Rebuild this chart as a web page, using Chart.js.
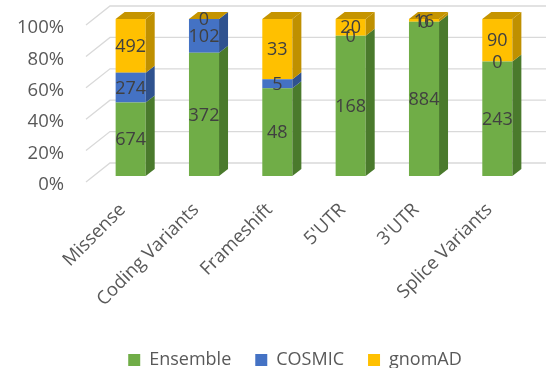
<!DOCTYPE html>
<html>
<head>
<meta charset="utf-8">
<script src="https://cdn.jsdelivr.net/npm/chart.js@4"></script>
<style>
  html, body { margin: 0; padding: 0; background: #fff; }
  #wrap { width: 546px; height: 368px; }
</style>
</head>
<body>
<div id="wrap"><canvas id="chart-stack"></canvas></div>
<script>
const categories = ['Missense', 'Coding Variants', 'Frameshift', "5'UTR", "3'UTR", 'Splice Variants'];
const ensemble = [674, 372, 48, 168, 884, 243];
const cosmic = [274, 102, 5, 0, 0, 0];
const gnomad = [492, 0, 33, 20, 16, 90];
const yTicks = [0, 20, 40, 60, 80, 100];

const totals = categories.map((c, i) => ensemble[i] + cosmic[i] + gnomad[i]);
const pct = arr => arr.map((v, i) => v / totals[i] * 100);

const DX = 9, DY = 7;

// grid lines on the back wall with a floor-ish diagonal on the left
const backGrid = {
  id: 'backGrid',
  afterLayout(chart) {
    // legend sits a bit right of centre in the original
    chart.legend.left += 56;
  },
  beforeDatasetsDraw(chart) {
    const y = chart.scales.y, ctx = chart.ctx;
    ctx.save();
    ctx.strokeStyle = '#d9d9d9';
    ctx.lineWidth = 1.3;
    yTicks.forEach(t => {
      const py = y.getPixelForValue(t);
      ctx.beginPath();
      ctx.moveTo(86, py + 6);
      ctx.lineTo(110, py - 13);
      ctx.lineTo(chart.width, py - 13);
      ctx.stroke();
    });
    ctx.restore();
  }
};

// side and top faces plus the value labels
const bars3d = {
  id: 'bars3d',
  afterDatasetsDraw(chart) {
    const ctx = chart.ctx;
    const n = chart.data.datasets.length;
    ctx.save();
    chart.data.datasets.forEach((ds, di) => {
      const meta = chart.getDatasetMeta(di);
      meta.data.forEach(bar => {
        const r = bar.x + bar.width / 2, top = bar.y, bot = bar.base;
        ctx.fillStyle = ds.sideColor;
        ctx.beginPath();
        ctx.moveTo(r, bot);
        ctx.lineTo(r + DX, bot - DY);
        ctx.lineTo(r + DX, top - DY);
        ctx.lineTo(r, top);
        ctx.closePath();
        ctx.fill();
        if (di === n - 1) {
          const l = bar.x - bar.width / 2;
          ctx.fillStyle = ds.topColor;
          ctx.beginPath();
          ctx.moveTo(l, top);
          ctx.lineTo(l + DX, top - DY);
          ctx.lineTo(r + DX, top - DY);
          ctx.lineTo(r, top);
          ctx.closePath();
          ctx.fill();
        }
      });
    });
    ctx.fillStyle = '#404040';
    ctx.font = '18px "Open Sans"';
    ctx.textAlign = 'center';
    ctx.textBaseline = 'middle';
    chart.data.datasets.forEach((ds, di) => {
      const meta = chart.getDatasetMeta(di);
      meta.data.forEach((bar, i) => {
        ctx.fillText(String(ds.raw[i]), bar.x, (bar.y + bar.base) / 2 + 1);
      });
    });
    ctx.restore();
  }
};

new Chart(document.getElementById('chart-stack'), {
  type: 'bar',
  data: {
    labels: categories,
    datasets: [
      { label: 'Ensemble', data: pct(ensemble), raw: ensemble, backgroundColor: '#70ad47', sideColor: '#4a7a2c', topColor: '#5a8f37' },
      { label: 'COSMIC', data: pct(cosmic), raw: cosmic, backgroundColor: '#4472c4', sideColor: '#2f528f', topColor: '#3a62a8' },
      { label: 'gnomAD', data: pct(gnomad), raw: gnomad, backgroundColor: '#ffc000', sideColor: '#bf9000', topColor: '#c59400' }
    ]
  },
  options: {
    responsive: true,
    maintainAspectRatio: false,
    animation: false,
    layout: { padding: { top: 19, right: 12, bottom: 0, left: 0 } },
    datasets: { bar: { barPercentage: 0.82, categoryPercentage: 0.5 } },
    scales: {
      x: {
        stacked: true,
        grid: { display: false },
        border: { display: false },
        ticks: {
          maxRotation: 45, minRotation: 45,
          padding: 15,
          labelOffset: -8,
          color: '#595959',
          font: { family: 'Open Sans', size: 18.5 }
        },
        afterFit(scale) { scale.height = 151; scale.paddingLeft = 0; scale.paddingRight = 0; }
      },
      y: {
        stacked: true,
        min: 0, max: 100,
        grid: { display: false },
        border: { display: false },
        ticks: {
          stepSize: 20,
          labelOffset: 9,
          padding: 22,
          color: '#595959',
          font: { family: 'Open Sans', size: 18.5 },
          callback: v => v + '%'
        },
        afterFit(scale) { scale.width = 94; scale.paddingTop = 0; scale.paddingBottom = 0; }
      }
    },
    plugins: {
      legend: {
        position: 'bottom',
        maxHeight: 41,
        labels: {
          boxWidth: 12, boxHeight: 12,
          padding: 24,
          color: '#595959',
          font: { family: 'Open Sans', size: 18 }
        }
      },
      tooltip: { enabled: false }
    }
  },
  plugins: [backGrid, bars3d]
});
</script>
</body>
</html>
